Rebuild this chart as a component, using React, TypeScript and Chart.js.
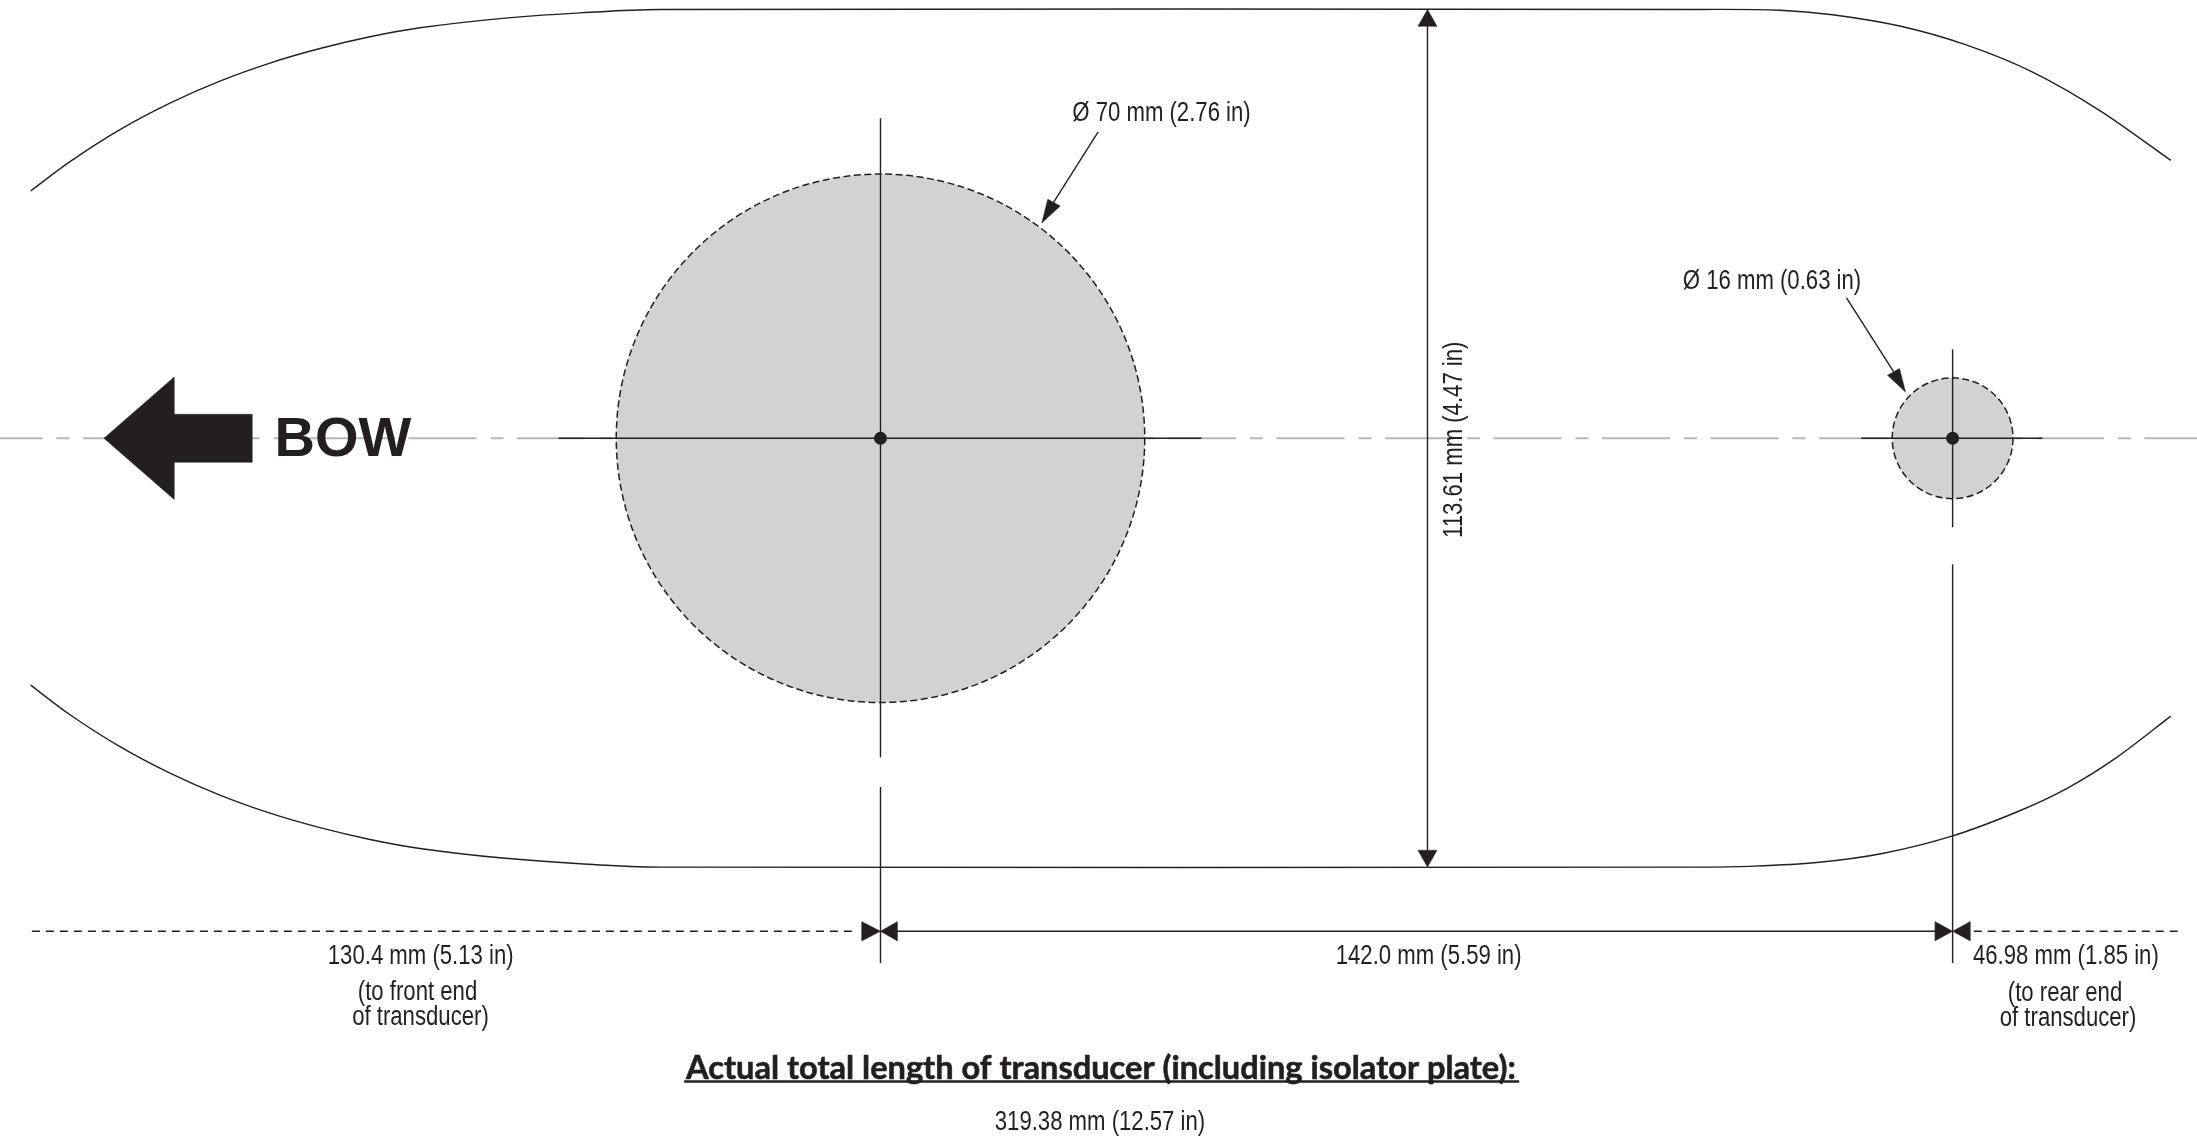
import React, { useEffect, useRef } from "react";
import { Chart, registerables } from "chart.js";

Chart.register(...registerables);

type Pt = [number, number];

// All coordinates are millimetres, origin at the centre of the 70 mm hole.
const outlineTop: Pt[] = [
  [-112.56, 32.75], [-107.35, 36.65], [-100.73, 40.89], [-94.11, 44.4], [-87.5, 47.31], [-80.86, 49.7],
  [-74.24, 51.62], [-67.62, 53.18], [-60.99, 54.37], [-50.4, 55.59], [-39.8, 56.35], [-29.2, 56.8],
  [108.5, 56.8], [119.1, 56.7], [126.1, 56.1], [135.0, 54.6], [143.8, 52.1], [152.6, 48.5],
  [161.5, 43.4], [170.9, 36.8],
];
const outlineBottom: Pt[] = [
  [-112.56, -32.7], [-107.35, -36.62], [-100.73, -40.85], [-94.11, -44.36], [-87.5, -47.27], [-80.86, -49.66],
  [-74.24, -51.58], [-67.62, -53.14], [-60.99, -54.33], [-50.4, -55.57], [-39.8, -56.35], [-29.2, -56.8],
  [108.5, -56.8], [115.1, -56.7], [124.0, -56.2], [132.7, -55.0], [141.9, -52.7], [150.5, -49.5],
  [157.1, -46.4], [163.7, -42.3], [170.9, -36.8],
];
const centreLine: Pt[] = [[-120, 0], [175, 0]];
const holes = [
  { x: 0, y: 0, radiusMm: 35 },
  { x: 142, y: 0, radiusMm: 8 },
];
const crossLines: Pt[][] = [
  [[-42.65, 0], [42.5, 0]],
  [[0, 42.4], [0, -42.25]],
  [[0, -46.2], [0, -69.5]],
  [[129.9, 0], [153.9, 0]],
  [[142, 11.8], [142, -11.8]],
  [[142, -16.7], [142, -69.5]],
];
const heightDim: Pt[] = [[72.45, 54.6], [72.45, -54.6]];
const spacingDim: Pt[] = [[2, -65.3], [140, -65.3]];
const frontDim: Pt[] = [[-112.4, -65.3], [-3, -65.3]];
const rearDim: Pt[] = [[144.8, -65.3], [171.9, -65.3]];
const leaders: Pt[][] = [
  [[28.83, 40.57], [22.9, 31.2]],
  [[127.95, 18.58], [134.2, 8.8]],
];
const arrowHeads: Pt[][] = [
  [[72.45, 56.8], [71.19, 54.57], [73.71, 54.57]],
  [[72.45, -56.8], [71.19, -54.57], [73.71, -54.57]],
  [[0, -65.3], [-2.45, -64.04], [-2.45, -66.56]],
  [[0, -65.3], [2.2, -64.04], [2.2, -66.56]],
  [[142, -65.3], [139.7, -64.04], [139.7, -66.56]],
  [[142, -65.3], [144.3, -64.04], [144.3, -66.56]],
  [[21.36, 28.52], [22.16, 31.66], [23.81, 30.77]],
  [[135.76, 6.13], [133.38, 8.34], [134.97, 9.23]],
];
const bowArrow: Pt[] = [
  [-102.85, 0], [-93.58, 8.08], [-93.58, 3.18], [-83.25, 3.18],
  [-83.25, -3.18], [-93.58, -3.18], [-93.58, -8.08],
];
const titleUnderline: Pt[] = [[-26, -85.2], [84.6, -85.2]];
const labels = [
  { text: "BOW", x: -71.2, y: -0.33, font: "bold 56px 'Liberation Sans'" },
  { text: "Ø 70 mm (2.76 in)", x: 37.22, y: 42.95 },
  { text: "Ø 16 mm (0.63 in)", x: 118.08, y: 20.7 },
  { text: "113.61 mm (4.47 in)", x: 76.0, y: -0.2, rotate: true },
  { text: "130.4 mm (5.13 in)", x: -60.9, y: -68.6 },
  { text: "(to front end", x: -61.32, y: -73.45 },
  { text: "of transducer)", x: -60.93, y: -76.75 },
  { text: "142.0 mm (5.59 in)", x: 72.6, y: -68.6 },
  { text: "46.98 mm (1.85 in)", x: 157, y: -68.6 },
  { text: "(to rear end", x: 156.89, y: -73.5 },
  { text: "of transducer)", x: 157.29, y: -76.85 },
  { text: "Actual total length of transducer (including isolator plate):", x: 29.2, y: -83.45, font: "bold 32.6px Lato", heavy: true },
  { text: "319.38 mm (12.57 in)", x: 29.07, y: -90.6 },
];

const INK = "#231f20";
const NARROW = "27px 'Liberation Sans'";
const NARROW_X = 0.82;
const toXY = (p: Pt[]) => p.map(([x, y]) => ({ x, y }));

const line = (points: Pt[], extra: any = {}) => ({
  type: "scatter",
  showLine: true,
  data: toXY(points),
  borderColor: INK,
  borderWidth: 1.4,
  pointRadius: 0,
  fill: false,
  order: 5,
  ...extra,
});
const polygon = (points: Pt[], order = 2) => ({
  type: "scatter",
  showLine: true,
  data: toXY([...points, points[0]]),
  borderColor: INK,
  backgroundColor: INK,
  borderWidth: 0.5,
  pointRadius: 0,
  fill: "shape",
  order,
});

const dashPlugin = {
  id: "pointDash",
  beforeDatasetDraw(chart: any, args: any) {
    const dash = chart.data.datasets[args.index].pointDash;
    if (dash) chart.ctx.setLineDash(dash);
  },
  afterDatasetDraw(chart: any) {
    chart.ctx.setLineDash([]);
  },
};

const textPlugin = {
  id: "drawingText",
  afterDatasetsDraw(chart: any) {
    const { ctx, scales } = chart;
    ctx.save();
    ctx.fillStyle = INK;
    ctx.strokeStyle = INK;
    ctx.textAlign = "center";
    ctx.textBaseline = "middle";
    for (const l of labels as any[]) {
      ctx.save();
      ctx.translate(scales.x.getPixelForValue(l.x), scales.y.getPixelForValue(l.y));
      if (l.rotate) ctx.rotate(-Math.PI / 2);
      if (!l.font) ctx.scale(NARROW_X, 1);
      ctx.font = l.font || NARROW;
      ctx.fillText(l.text, 0, 0);
      if (l.heavy) {
        ctx.lineWidth = 0.6;
        ctx.strokeText(l.text, 0, 0);
      }
      ctx.restore();
    }
    ctx.restore();
  },
};

export default function App() {
  const ref = useRef<HTMLCanvasElement>(null);
  useEffect(() => {
    const radius = (mm: number) => (c: any) => {
      const s = c.chart.scales.x;
      return s.getPixelForValue(mm) - s.getPixelForValue(0);
    };
    const chart = new Chart(ref.current as any, {
      type: "scatter",
      data: {
        datasets: [
          line(centreLine, { borderColor: "#b5b8ba", borderWidth: 2, borderDash: [68, 14, 13, 13.5], order: 9 }),
          ...holes.map((h) => ({
            type: "scatter",
            data: [{ x: h.x, y: h.y }],
            backgroundColor: "#d1d3d2",
            borderColor: INK,
            borderWidth: 1.5,
            pointRadius: radius(h.radiusMm),
            pointHoverRadius: radius(h.radiusMm),
            pointDash: [7, 3.5],
            order: 8,
          })),
          line(outlineTop, { tension: 0.33 }),
          line(outlineBottom, { tension: 0.33 }),
          ...crossLines.map((c) => line(c)),
          line(heightDim),
          line(spacingDim, { borderWidth: 1.6 }),
          line(frontDim, { borderDash: [8, 6] }),
          line(rearDim, { borderDash: [8, 6] }),
          ...leaders.map((c) => line(c)),
          ...arrowHeads.map((a) => polygon(a)),
          polygon(bowArrow),
          ...holes.map((h) => ({
            type: "scatter",
            data: [{ x: h.x, y: h.y }],
            backgroundColor: INK,
            borderWidth: 0,
            pointRadius: 6.5,
            order: 1,
          })),
          line(titleUnderline, { borderWidth: 2.6 }),
        ] as any,
      },
      options: {
        responsive: false,
        animation: false,
        devicePixelRatio: 1,
        events: [],
        layout: { padding: 0, autoPadding: false },
        plugins: { legend: { display: false }, title: { display: false }, tooltip: { enabled: false } },
        scales: {
          x: { type: "linear", display: false, min: -116.62, max: 174.37 },
          y: { type: "linear", display: false, min: -92.55, max: 58.05 },
        },
      } as any,
      plugins: [dashPlugin, textPlugin],
    });
    return () => chart.destroy();
  }, []);
  return (
    <div style={{ position: "absolute", left: 0, top: 0, width: 2197, height: 1137, background: "#fff" }}>
      <canvas ref={ref} width={2197} height={1137} style={{ display: "block" }} />
    </div>
  );
}
